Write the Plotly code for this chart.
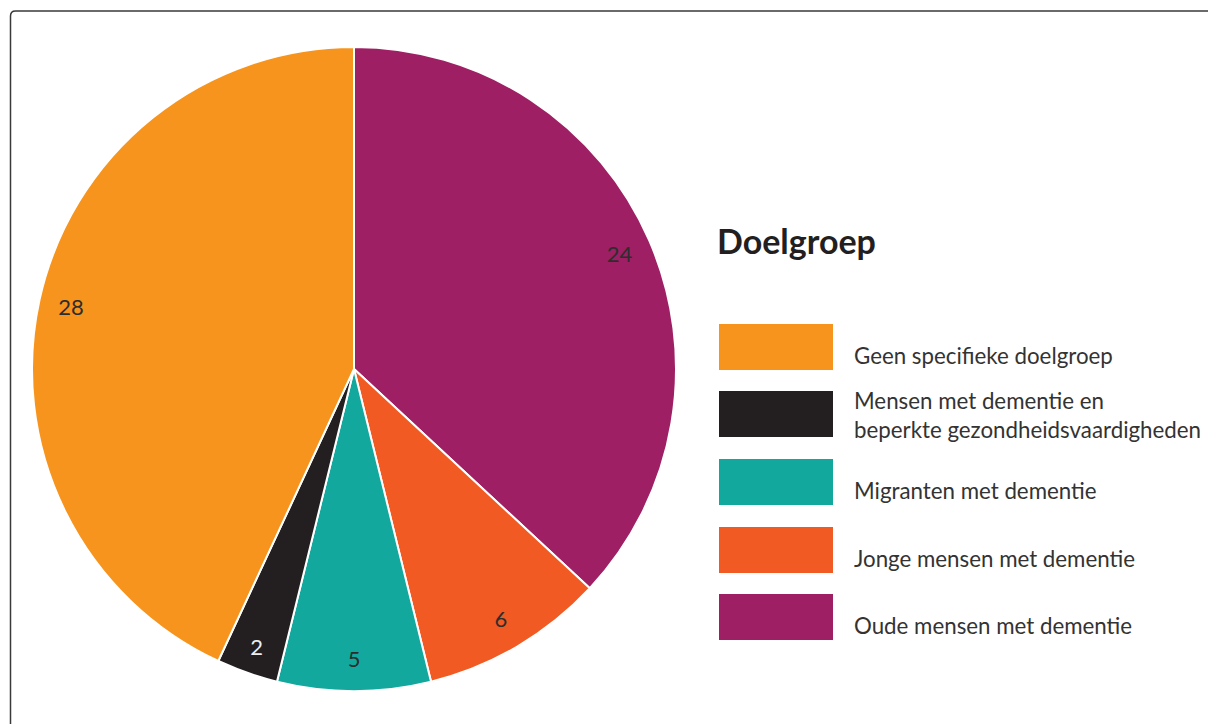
import plotly.graph_objects as go

# Doelgroep distribution (legend order)
categories = [
    "Geen specifieke doelgroep",
    "Mensen met dementie en<br>beperkte gezondheidsvaardigheden",
    "Migranten met dementie",
    "Jonge mensen met dementie",
    "Oude mensen met dementie",
]
values = [28, 2, 5, 6, 24]
colors = ["#F7941D", "#231F20", "#12A89D", "#F15A22", "#9E1F63"]
label_colors = ["#2d2d2d", "#eeeeee", "#2d2d2d", "#2d2d2d", "#2d2d2d"]
title_text = "Doelgroep"

W, H = 1208, 724
FONT = "Lato"


def px(x):
    return x / W


def py(y):
    return 1 - y / H


# pie geometry (pixels)
cx, cy, R = 354, 369, 322
dom_x = [px(cx - R), px(cx + R)]
dom_y = [py(cy + R), py(cy - R)]

# slices are laid clockwise from 12 o'clock starting with the last category,
# so the first category wraps round the left side up to the top
pie_labels = categories[::-1]
pie_values = values[::-1]
pie_colors = colors[::-1]
pie_text_colors = label_colors[::-1]

fig = go.Figure()

# filled slices
fig.add_trace(go.Pie(
    labels=pie_labels,
    values=pie_values,
    sort=False,
    direction="clockwise",
    rotation=0,
    marker=dict(colors=pie_colors, line=dict(color="white", width=2)),
    textinfo="none",
    hoverinfo="label+value",
    domain=dict(x=dom_x, y=dom_y),
    showlegend=False,
))

# transparent outer ring that carries the value labels near the rim
fig.add_trace(go.Pie(
    labels=pie_labels,
    values=pie_values,
    sort=False,
    direction="clockwise",
    rotation=0,
    hole=0.8,
    marker=dict(colors=["rgba(0,0,0,0)"] * len(pie_values), line=dict(width=0)),
    textinfo="value",
    textposition="inside",
    insidetextorientation="horizontal",
    textfont=dict(family=FONT, size=22, color=pie_text_colors),
    hoverinfo="skip",
    domain=dict(x=dom_x, y=dom_y),
    showlegend=False,
))

shapes = []
annotations = []

# outer frame with rounded top-left corner
r = 5
frame_path = (
    f"M {px(10.5)},{py(740)} L {px(10.5)},{py(11 + r)} "
    f"Q {px(10.5)},{py(11)} {px(10.5 + r)},{py(11)} L {px(1230)},{py(11)}"
)
shapes.append(dict(type="path", xref="paper", yref="paper", path=frame_path,
                   line=dict(color="#3a3a3a", width=1.5)))

# legend title
annotations.append(dict(
    text=f"<b>{title_text}</b>", x=px(715), y=py(240), xref="paper", yref="paper",
    xanchor="left", yanchor="middle", showarrow=False,
    font=dict(family=FONT, size=34, color="#231F20"),
))

# custom legend: large swatches with labels
sw_x0, sw_x1 = 719, 833
sw_tops = [324, 391, 459, 527, 594]
sw_h = 46
for cat, col, top in zip(categories, colors, sw_tops):
    shapes.append(dict(type="rect", xref="paper", yref="paper",
                       x0=px(sw_x0), x1=px(sw_x1), y0=py(top + sw_h), y1=py(top),
                       fillcolor=col, line=dict(width=0)))
    mid = top + sw_h / 2
    ty = mid + (1 if "<br>" in cat else 8)
    annotations.append(dict(
        text=cat, x=px(852), y=py(ty), xref="paper", yref="paper",
        xanchor="left", yanchor="middle", align="left", showarrow=False,
        font=dict(family=FONT, size=22.3, color="#333333"),
    ))

fig.update_layout(
    width=W, height=H,
    margin=dict(l=0, r=0, t=0, b=0),
    paper_bgcolor="white",
    plot_bgcolor="white",
    shapes=shapes,
    annotations=annotations,
    showlegend=False,
)

fig.write_html("out.html")
